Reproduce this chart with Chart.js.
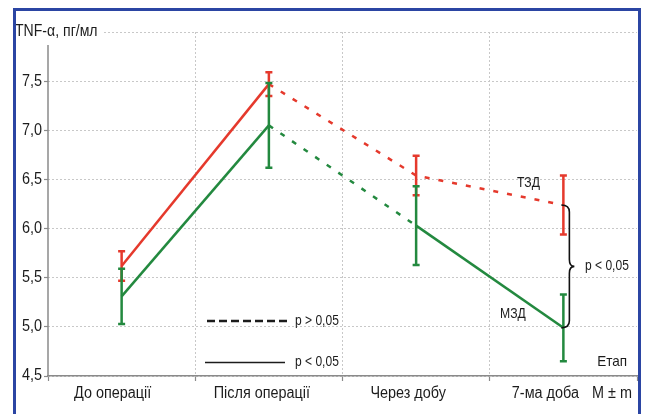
<!DOCTYPE html>
<html><head><meta charset="utf-8">
<script src="https://cdn.jsdelivr.net/npm/chart.js@4"></script>
<style>
html,body{margin:0;padding:0;background:#fff;overflow:hidden}
#wrap{position:relative;width:648px;height:414px}
#frame{position:absolute;left:13px;top:8px;width:628px;height:420px;border:3px solid #2b45a3;box-sizing:border-box;pointer-events:none}
canvas{position:absolute;left:0;top:0}
</style></head><body>
<div id="wrap"><canvas id="c" width="648" height="414"></canvas><div id="frame"></div></div>
<script>
const categories = ['До операції', 'Після операції', 'Через добу', '7-ма доба'];
const tzdMean = [5.62, 7.47, 6.54, 6.24];
const tzdErr  = [0.15, 0.12, 0.20, 0.30];
const mzdMean = [5.31, 7.05, 6.03, 4.99];
const mzdErr  = [0.28, 0.43, 0.40, 0.34];
const yTickLabels = [4.5, 5.0, 5.5, 6.0, 6.5, 7.0, 7.5];

const RED = '#e5392c';
const GREEN = '#23893f';
const TXT = '#1c1c1c';
const AXIS = '#8a8a8a';
const FONT = "'Liberation Sans', Arial, sans-serif";
const DASH = [5, 9];

function txt(ctx, s, x, y, align, size, sx) {
  ctx.save();
  ctx.translate(x, y);
  ctx.scale(sx, 1);
  ctx.font = size + 'px ' + FONT;
  ctx.textAlign = align;
  ctx.textBaseline = 'middle';
  ctx.fillStyle = TXT;
  ctx.fillText(s, 0, 0);
  ctx.restore();
}

const overlay = {
  id: 'overlay',
  afterDatasetsDraw(chart) {
    const {ctx, scales: {x, y}} = chart;
    const sets = [[tzdMean, tzdErr, RED], [mzdMean, mzdErr, GREEN]];
    ctx.save();
    ctx.setLineDash([]);
    sets.forEach(([m, e, col]) => {
      ctx.strokeStyle = col; ctx.lineWidth = 2.5;
      m.forEach((v, i) => {
        const px = x.getPixelForValue(i);
        const t = y.getPixelForValue(v + e[i]);
        const b = y.getPixelForValue(v - e[i]);
        ctx.beginPath();
        ctx.moveTo(px, t); ctx.lineTo(px, b);
        ctx.moveTo(px - 3.5, t); ctx.lineTo(px + 3.5, t);
        ctx.moveTo(px - 3.5, b); ctx.lineTo(px + 3.5, b);
        ctx.stroke();
      });
    });
    ctx.restore();
  },
  afterDraw(chart) {
    const {ctx, scales: {x, y}, chartArea: a} = chart;
    ctx.save();
    // y axis line
    ctx.strokeStyle = AXIS; ctx.lineWidth = 1.5; ctx.setLineDash([]);
    ctx.beginPath(); ctx.moveTo(a.left, 45); ctx.lineTo(a.left, a.bottom); ctx.stroke();
    // title
    ctx.fillStyle = '#fff'; ctx.fillRect(16, 23, 86, 19);
    txt(ctx, 'TNF-α, пг/мл', 15, 32, 'left', 16, 0.88);
    // y tick labels
    yTickLabels.forEach(v => txt(ctx, v.toFixed(1).replace('.', ','), a.left - 6, y.getPixelForValue(v), 'right', 16, 0.9));
    // category labels
    const shift = [-9, -7, -8, -18];
    categories.forEach((c, i) => txt(ctx, c, x.getPixelForValue(i) + shift[i], 394, 'center', 16, 0.9));
    txt(ctx, 'M ± m', 592, 394, 'left', 16, 0.9);
    txt(ctx, 'Етап', 627, 362, 'right', 15, 0.9);
    txt(ctx, 'ТЗД', 517, 183, 'left', 14, 0.87);
    txt(ctx, 'МЗД', 500, 314, 'left', 14, 0.87);
    // legend
    ctx.strokeStyle = TXT;
    ctx.lineWidth = 2.5; ctx.setLineDash([8, 4]);
    ctx.beginPath(); ctx.moveTo(207, 321); ctx.lineTo(290, 321); ctx.stroke();
    ctx.lineWidth = 1.5; ctx.setLineDash([]);
    ctx.beginPath(); ctx.moveTo(205, 362.5); ctx.lineTo(285, 362.5); ctx.stroke();
    txt(ctx, 'p > 0,05', 295, 321, 'left', 14, 0.86);
    txt(ctx, 'p < 0,05', 295, 362, 'left', 14, 0.86);
    // brace
    const x0 = x.getPixelForValue(3);
    const yT = y.getPixelForValue(tzdMean[3]);
    const yB = y.getPixelForValue(mzdMean[3]);
    const bx = x0 + 6, tip = x0 + 11, ym = (yT + yB) / 2, r = 7;
    ctx.strokeStyle = '#111'; ctx.lineWidth = 1.6;
    ctx.beginPath();
    ctx.moveTo(x0 - 2, yT);
    ctx.quadraticCurveTo(bx, yT, bx, yT + r);
    ctx.lineTo(bx, ym - r);
    ctx.quadraticCurveTo(bx, ym, tip, ym);
    ctx.quadraticCurveTo(bx, ym, bx, ym + r);
    ctx.lineTo(bx, yB - r);
    ctx.quadraticCurveTo(bx, yB, x0 - 2, yB);
    ctx.stroke();
    txt(ctx, 'p < 0,05', 585, ym, 'left', 14, 0.86);
    ctx.restore();
  }
};

new Chart(document.getElementById('c'), {
  type: 'line',
  data: {
    labels: categories,
    datasets: [
      {
        label: 'ТЗД', data: tzdMean, borderColor: RED, borderWidth: 2.5,
        pointRadius: 0, fill: false, tension: 0,
        segment: { borderDash: c => c.p0DataIndex >= 1 ? DASH : undefined }
      },
      {
        label: 'МЗД', data: mzdMean, borderColor: GREEN, borderWidth: 2.5,
        pointRadius: 0, fill: false, tension: 0,
        segment: { borderDash: c => c.p0DataIndex === 1 ? DASH : undefined }
      }
    ]
  },
  options: {
    responsive: false, animation: false,
    layout: { padding: { left: 0, right: 11, top: 32, bottom: 0 } },
    plugins: { legend: { display: false }, tooltip: { enabled: false } },
    scales: {
      x: {
        offset: true,
        afterFit: s => { s.height = 38; },
        ticks: { display: false },
        grid: {
          offset: true,
          color: c => (c.type !== 'tick' || c.index === 0) ? 'rgba(0,0,0,0)' : '#c8c8c8',
          lineWidth: 1, tickLength: 5, tickColor: AXIS, tickWidth: 1.2, tickBorderDash: []
        },
        border: { display: true, color: AXIS, width: 1.5, dash: [2, 2] }
      },
      y: {
        min: 4.5, max: 8.0,
        afterFit: s => { s.width = 48; },
        ticks: { display: false, stepSize: 0.5 },
        grid: {
          color: '#c8c8c8', lineWidth: 1, tickLength: 4, tickColor: AXIS, tickWidth: 1.2, tickBorderDash: []
        },
        border: { display: false, dash: [2, 2] }
      }
    }
  },
  plugins: [overlay]
});
</script>
</body></html>
